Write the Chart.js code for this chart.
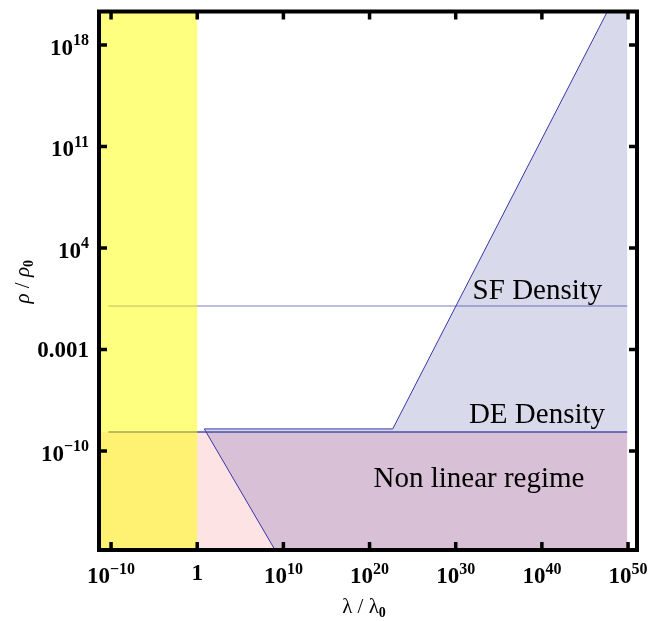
<!DOCTYPE html>
<html>
<head>
<meta charset="utf-8">
<script src="https://cdn.jsdelivr.net/npm/chart.js@4.4.0/dist/chart.umd.min.js"></script>
<style>
  html, body { margin: 0; padding: 0; background: #fff; }
  #wrap { width: 661px; height: 621px; }
</style>
</head>
<body>
<div id="wrap"><canvas id="myChart"></canvas></div>
<script>
// axis ranges (log10 values)
const xRange = [Math.pow(10, -11.4), Math.pow(10, 51.04)];
const yRange = [Math.pow(10, -16.83), Math.pow(10, 20.31)];

const xTicks = [1e-10, 1, 1e10, 1e20, 1e30, 1e40, 1e50];
const xTickLabels = [['10', '−10'], ['1', ''], ['10', '10'], ['10', '20'], ['10', '30'], ['10', '40'], ['10', '50']];
const yTicks = [1e-10, 1e-3, 1e4, 1e11, 1e18];
const yTickLabels = [['10', '−10'], ['0.001', ''], ['10', '4'], ['10', '11'], ['10', '18']];

// density levels
const sfDensity = 1;
const deDensity = Math.pow(10, -8.69);
const densityLineX = [Math.pow(10, -10.3), Math.pow(10, 49.9)];
const shadeEndX = Math.pow(10, 49.9);
const yellowEndX = 1;

// non linear regime polygon
const nonLinearX = [Math.pow(10, 9.03), Math.pow(10, 0.82), Math.pow(10, 22.69), Math.pow(10, 47.6), shadeEndX, shadeEndX];
const nonLinearY = [yRange[0], Math.pow(10, -8.48), Math.pow(10, -8.48), yRange[1], yRange[1], yRange[0]];

const regionLabels = ['SF Density', 'DE Density', 'Non linear regime'];
const regionLabelX = [Math.pow(10, 39.49), Math.pow(10, 39.43), Math.pow(10, 32.7)];
const regionLabelY = [Math.pow(10, 0.48), Math.pow(10, -8.09), Math.pow(10, -12.46)];

const pts = (xs, ys) => xs.map((x, i) => ({ x: x, y: ys[i] }));

const yellowBand = pts([xRange[0], yellowEndX, yellowEndX, xRange[0]], [yRange[0], yRange[0], yRange[1], yRange[1]]);
const pinkArea = pts([xRange[0], shadeEndX, shadeEndX, xRange[0]], [deDensity, deDensity, yRange[0], yRange[0]]);
const nonLinear = pts(nonLinearX, nonLinearY);
const nonLinearEdge = nonLinear.slice(0, 4);
const sfLine = pts(densityLineX, [sfDensity, sfDensity]);
const deLine = pts(densityLineX, [deDensity, deDensity]);

function drawPow(ctx, base, exp, x, baseline, align) {
  ctx.font = 'bold 23px "Liberation Serif"';
  const wb = ctx.measureText(base).width;
  ctx.font = 'bold 16px "Liberation Serif"';
  const we = exp ? ctx.measureText(exp).width : 0;
  const total = wb + we;
  let sx = align === 'center' ? x - total / 2 : x - total;
  ctx.textAlign = 'left';
  ctx.textBaseline = 'alphabetic';
  ctx.font = 'bold 23px "Liberation Serif"';
  ctx.fillText(base, sx, baseline);
  if (exp) {
    ctx.font = 'bold 16px "Liberation Serif"';
    ctx.fillText(exp, sx + wb, baseline - 9.5);
  }
}

const framePlugin = {
  id: 'frame',
  afterDatasetsDraw(chart) {
    const { ctx, chartArea: a, scales: { x, y } } = chart;
    ctx.save();
    ctx.fillStyle = '#000';

    // region labels
    ctx.font = '29px "Liberation Serif"';
    ctx.textAlign = 'center';
    ctx.textBaseline = 'alphabetic';
    regionLabels.forEach((t, i) => {
      ctx.fillText(t, x.getPixelForValue(regionLabelX[i]), y.getPixelForValue(regionLabelY[i]));
    });

    // frame
    ctx.strokeStyle = '#000';
    ctx.lineWidth = 4;
    ctx.strokeRect(a.left, a.top, a.right - a.left, a.bottom - a.top);

    // inner ticks on all sides
    ctx.lineWidth = 3.5;
    ctx.beginPath();
    xTicks.forEach(v => {
      const px = x.getPixelForValue(v);
      ctx.moveTo(px, a.bottom); ctx.lineTo(px, a.bottom - 8);
      ctx.moveTo(px, a.top); ctx.lineTo(px, a.top + 8);
    });
    yTicks.forEach(v => {
      const py = y.getPixelForValue(v);
      ctx.moveTo(a.left, py); ctx.lineTo(a.left + 8, py);
      ctx.moveTo(a.right, py); ctx.lineTo(a.right - 8, py);
    });
    ctx.stroke();

    // tick labels
    xTicks.forEach((v, i) => {
      const [b, e] = xTickLabels[i];
      drawPow(ctx, b, e, x.getPixelForValue(v), a.bottom + (e ? 33 : 30), 'center');
    });
    yTicks.forEach((v, i) => {
      const [b, e] = yTickLabels[i];
      drawPow(ctx, b, e, a.left - 10, y.getPixelForValue(v) + (e ? 10 : 8), 'right');
    });

    // x axis title: λ / λ0
    const cx = (a.left + a.right) / 2 - 4;
    ctx.textAlign = 'left';
    ctx.font = '21px "Liberation Serif"';
    const t1 = 'λ / λ';
    const w1 = ctx.measureText(t1).width;
    ctx.font = 'bold 14px "Liberation Serif"';
    const w2 = ctx.measureText('0').width;
    let sx = cx - (w1 + w2) / 2;
    ctx.font = '21px "Liberation Serif"';
    ctx.fillText(t1, sx, a.bottom + 63);
    ctx.font = 'bold 14px "Liberation Serif"';
    ctx.fillText('0', sx + w1, a.bottom + 67);

    // y axis title: ρ / ρ0
    ctx.translate(29, (a.top + a.bottom) / 2 + 1);
    ctx.rotate(-Math.PI / 2);
    ctx.font = 'italic 21px "Liberation Serif"';
    const r1 = ctx.measureText('ρ').width;
    ctx.font = '21px "Liberation Serif"';
    const r2 = ctx.measureText(' / ').width;
    ctx.font = 'bold 14px "Liberation Serif"';
    const r3 = ctx.measureText('0').width;
    let rx = -(2 * r1 + r2 + r3) / 2;
    ctx.font = 'italic 21px "Liberation Serif"';
    ctx.fillText('ρ', rx, 0);
    ctx.font = '21px "Liberation Serif"';
    ctx.fillText(' / ', rx + r1, 0);
    ctx.font = 'italic 21px "Liberation Serif"';
    ctx.fillText('ρ', rx + r1 + r2, 0);
    ctx.font = 'bold 14px "Liberation Serif"';
    ctx.fillText('0', rx + 2 * r1 + r2, 4);

    ctx.restore();
  }
};

new Chart(document.getElementById('myChart'), {
  type: 'line',
  data: {
    datasets: [
      { data: yellowBand, fill: 'shape', backgroundColor: 'rgba(255,255,0,0.5)', borderColor: 'transparent', borderWidth: 0 },
      { data: nonLinearEdge, fill: false, borderColor: 'rgb(55,55,165)', borderWidth: 1 },
      { data: deLine, fill: false, borderColor: 'rgb(75,75,170)', borderWidth: 1.3 },
      { data: sfLine, fill: false, borderColor: 'rgba(60,60,160,0.45)', borderWidth: 1.3 },
      { data: nonLinear, fill: 'shape', backgroundColor: 'rgba(0,0,128,0.15)', borderColor: 'transparent', borderWidth: 0 },
      { data: pinkArea, fill: 'shape', backgroundColor: 'rgb(254,227,229)', borderColor: 'transparent', borderWidth: 0 }
    ]
  },
  options: {
    responsive: true,
    maintainAspectRatio: false,
    animation: false,
    layout: { padding: { top: 11.5, right: 24, left: 0, bottom: 0 } },
    plugins: { legend: { display: false }, tooltip: { enabled: false } },
    elements: { point: { radius: 0 }, line: { tension: 0 } },
    scales: {
      x: {
        type: 'logarithmic', min: xRange[0], max: xRange[1], bounds: 'data',
        grid: { display: false }, border: { display: false }, ticks: { display: false },
        afterFit: s => { s.height = 71; }
      },
      y: {
        type: 'logarithmic', min: yRange[0], max: yRange[1], bounds: 'data',
        grid: { display: false }, border: { display: false }, ticks: { display: false },
        afterFit: s => { s.width = 99; }
      }
    }
  },
  plugins: [framePlugin]
});
</script>
</body>
</html>
